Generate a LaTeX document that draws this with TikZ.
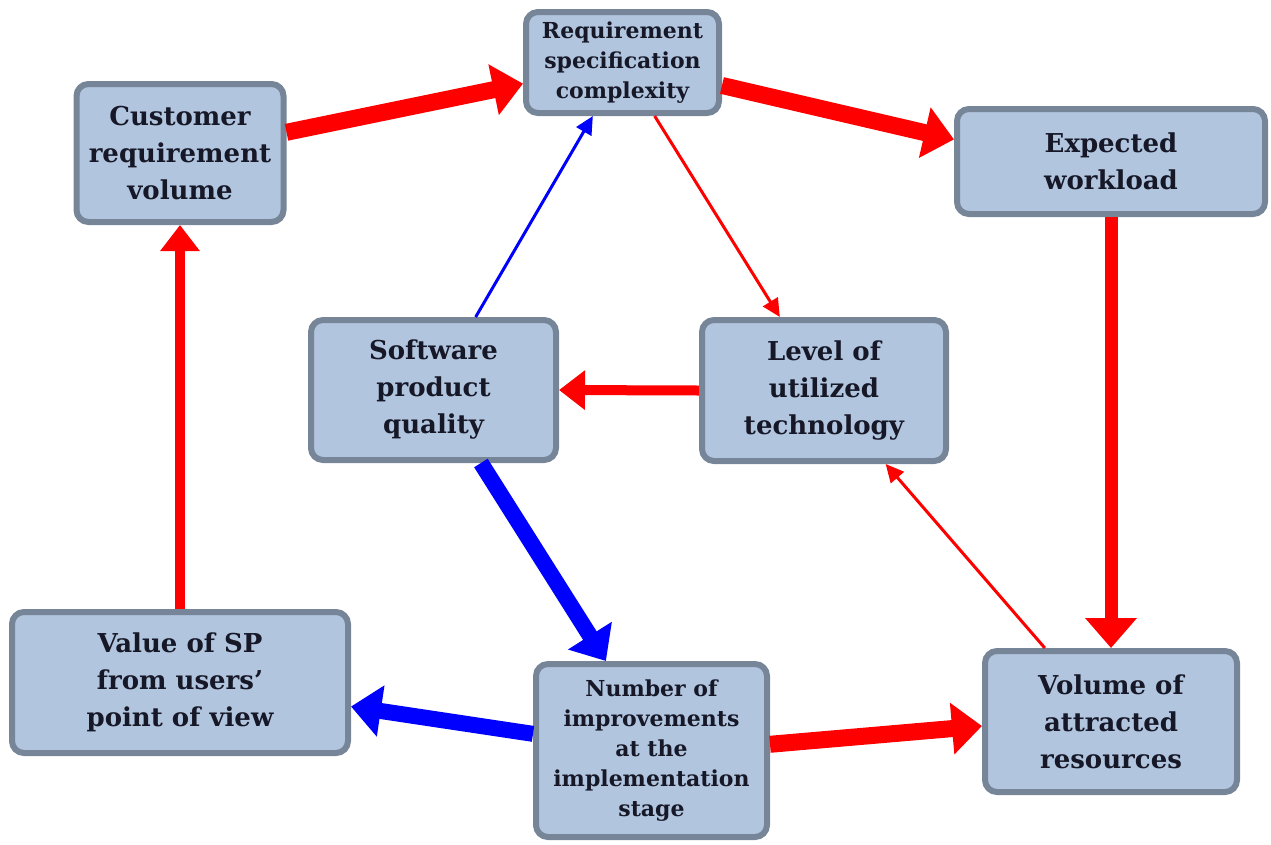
\documentclass[tikz,border=0pt]{standalone}
\usepackage{fontspec}
\setmainfont{DejaVu Serif}
\usetikzlibrary{arrows.meta}
\definecolor{boxfill}{RGB}{178,197,222}
\definecolor{boxline}{RGB}{118,133,152}
\definecolor{boxtext}{RGB}{22,24,40}

\tikzset{
	factor/.style={draw=boxline, line width=6pt, fill=boxfill, rounded corners=12pt,
		align=center, text=boxtext, inner sep=0pt,
		font=\bfseries\fontsize{26}{37}\selectfont},
	smalltext/.style={font=\bfseries\fontsize{22}{30}\selectfont},
	bighead/.style={-{Triangle[length=30pt, width=50pt]}},
	midhead/.style={-{Triangle[length=26pt, width=38pt]}},
	thinhead/.style={-{Triangle[length=18pt, width=17pt]}},
	thickred/.style={red, line width=17pt, bighead},
	thickblue/.style={blue, line width=16pt, bighead},
	midred/.style={red, line width=10pt, midhead},
	thinred/.style={red, line width=3pt, thinhead},
	thinblue/.style={blue, line width=3pt, thinhead}
}

\begin{document}
\begin{tikzpicture}[x=1pt, y=-1pt]
	\useasboundingbox (0,0) rectangle (1271,844);

	% factors
	\node[factor, minimum width=207pt, minimum height=138pt] (cust) at (180,153) {Customer\\requirement\\volume};
	\node[factor, smalltext, minimum width=193pt, minimum height=101pt] (req) at (622.5,62.5) {Requirement\\specification\\complexity};
	\node[factor, minimum width=308pt, minimum height=105pt] (work) at (1111,161.5) {Expected\\workload};
	\node[factor, minimum width=245pt, minimum height=140pt] (qual) at (433.5,390) {Software\\product\\quality};
	\node[factor, minimum width=244pt, minimum height=141pt] (tech) at (824,390.5) {Level of\\utilized\\technology};
	\node[factor, minimum width=336pt, minimum height=141pt] (value) at (180,682.5) {Value of SP\\from users'\\point of view};
	\node[factor, smalltext, minimum width=231pt, minimum height=173pt] (impr) at (651.5,750.5) {Number of\\improvements\\at the\\implementation\\stage};
	\node[factor, minimum width=252pt, minimum height=141pt] (res) at (1111,721.5) {Volume of\\attracted\\resources};

	% links
	\draw[thickred] (cust.11) -- (req.192);
	\draw[thickred] (req.-13) -- (work.172);
	\draw[red, line width=13pt, bighead] (work.south) -- (res.north);
	\draw[thinred] (req.-59) -- (tech.121);
	\draw[thinblue] (qual.60) -- (req.-119);
	\draw[midred] (tech.west) -- (qual.east);
	\draw[thickblue] (qual.-57) -- (impr.117);
	\draw[thickblue] (impr.172) -- (value.-8);
	\draw[thickred] (impr.3) -- (res.182);
	\draw[midred] (value.north) -- (cust.south);
	\draw[thinred] (res.132) -- (tech.-50);

\end{tikzpicture}
\end{document}
